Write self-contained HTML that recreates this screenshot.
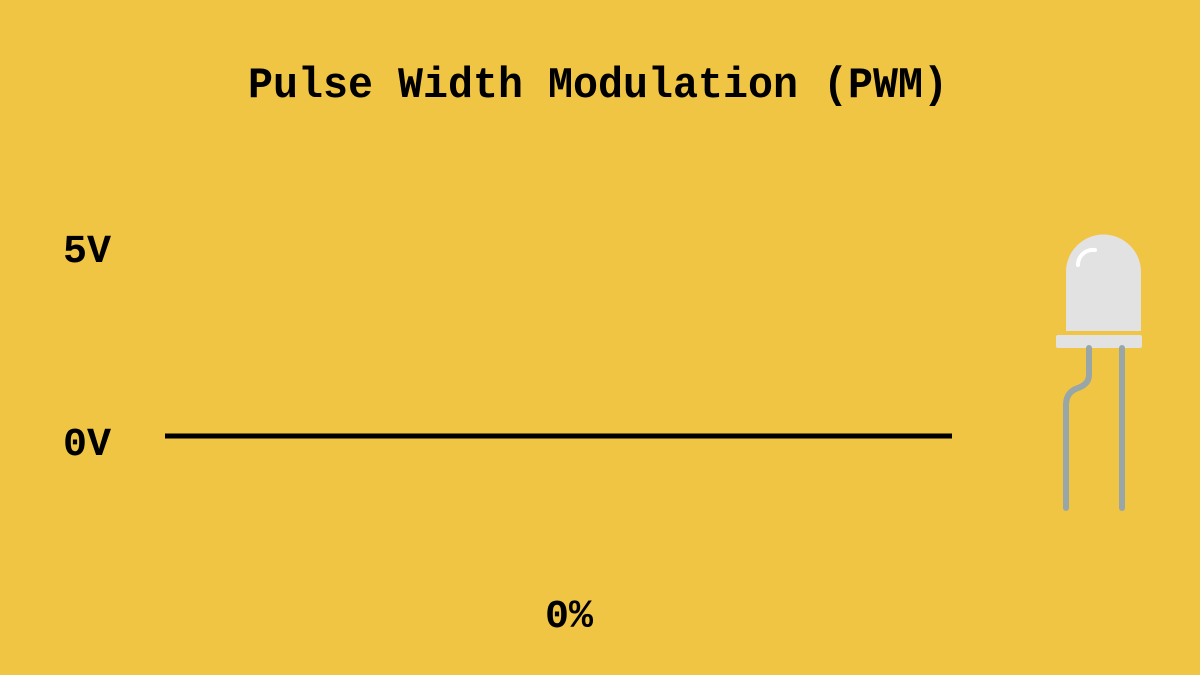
<!DOCTYPE html>
<html><head><meta charset="utf-8"><style>
html,body{margin:0;padding:0;background:#f0c543;}
svg{display:block}
text{font-family:"Liberation Mono",monospace;font-weight:bold;fill:#000}
</style></head><body>
<svg id="chart" width="1200" height="675" viewBox="0 0 1200 675">
<rect width="1200" height="675" fill="#f0c543"/>
<text x="248" y="97" font-size="44" textLength="700" lengthAdjust="spacingAndGlyphs">Pulse Width Modulation (PWM)</text>
<g id="yaxis"></g>
<g id="signal"></g>
<text id="duty" x="569" y="627" text-anchor="middle" font-size="40"></text>
<g>
<path d="M1066,331 L1066,272 A37.5,37.5 0 0 1 1141,272 L1141,331 Z" fill="#e2e2e2"/>
<path d="M1078,265 A15,15 0 0 1 1095,250" stroke="#fff" stroke-width="4" fill="none" stroke-linecap="round"/>
<rect x="1056" y="335" width="86" height="13" rx="2" fill="#e2e2e2"/>
<path d="M1089,348 L1089,375 Q1089,384 1078,388 Q1066,392 1066,405 L1066,508" stroke="#99a6a8" stroke-width="6" fill="none" stroke-linecap="round"/>
<path d="M1122,348 L1122,508" stroke="#99a6a8" stroke-width="6" fill="none" stroke-linecap="round"/>
</g>
</svg>
<script>
const yTickLabels = ["0V","5V"];
const yTickValues = [0,5];
const timeSteps = [0,1,2,3,4,5,6,7,8,9,10];
const voltage = [0,0,0,0,0,0,0,0,0,0,0];
const dutyCycle = [0];

const ns="http://www.w3.org/2000/svg";
const x0=165,x1=952,yZero=436,yFive=243;
function xScale(t){return x0+(t-timeSteps[0])/(timeSteps[timeSteps.length-1]-timeSteps[0])*(x1-x0);}
function yScale(v){return yZero+(yFive-yZero)*v/5;}

const ya=document.getElementById('yaxis');
yTickValues.forEach((v,i)=>{
  const t=document.createElementNS(ns,'text');
  t.setAttribute('x',63);t.setAttribute('y',yScale(v)+19);
  t.setAttribute('font-size','40');
  t.textContent=yTickLabels[i];
  
  
  ya.appendChild(t);
});

let d="";
voltage.forEach((v,i)=>{
  const x=xScale(timeSteps[i]),y=yScale(v);
  if(i===0)d+="M"+x+","+y;
  else{d+=" L"+x+","+yScale(voltage[i-1])+" L"+x+","+y;}
});
const p=document.createElementNS(ns,'path');
p.setAttribute('d',d);p.setAttribute('stroke','#000');p.setAttribute('stroke-width','5');p.setAttribute('fill','none');


document.getElementById('signal').appendChild(p);
document.getElementById('duty').textContent=dutyCycle[0]+"%";
</script>
</body></html>
